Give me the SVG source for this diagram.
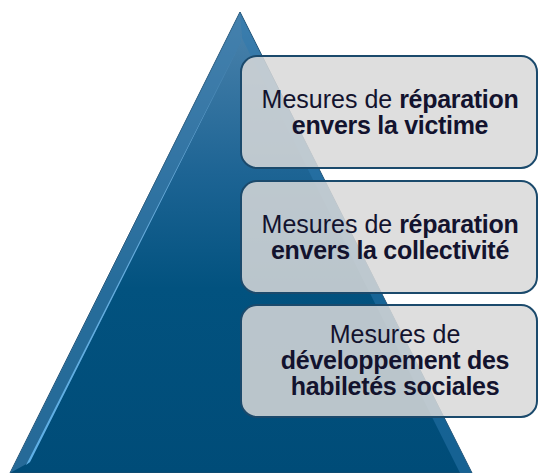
<svg xmlns="http://www.w3.org/2000/svg" width="539" height="473" viewBox="0 0 539 473">
  <style>
    .box { fill: #d8d8d8; fill-opacity: 0.86; stroke: #1b4a6c; stroke-width: 2; }
    text { font-family: "Liberation Sans", Arial, sans-serif; font-size: 25px; fill: #13132e; text-anchor: middle; }
    .b { font-weight: bold; letter-spacing: -0.3px; }
  </style>
  <defs>
    <linearGradient id="tri" x1="0" y1="0" x2="0" y2="1">
      <stop offset="0" stop-color="#4d84ad"/>
      <stop offset="0.35" stop-color="#1d6494"/>
      <stop offset="0.6" stop-color="#02527f"/>
      <stop offset="1" stop-color="#004c78"/>
    </linearGradient>
    <linearGradient id="hl" x1="0" y1="0" x2="0" y2="1">
      <stop offset="0" stop-color="#6aa6d2"/>
      <stop offset="1" stop-color="#5fb0e6"/>
    </linearGradient>
  </defs>
  <g id="pyramid">
    <polygon points="240,12 472,473 10,473" fill="url(#tri)" stroke="#1d4a6a" stroke-width="1"/>
    <polygon points="240,12 241,42 30,462 10,473" fill="#3f7fae" fill-opacity="0.6"/>
    <polygon points="239,46 241,42 30,462 26,465" fill="url(#hl)"/>
    <polygon points="240,12 472,473 460,473 242,38" fill="#2c78ad" fill-opacity="0.5"/>
  </g>
  <g id="node-victime">
    <rect class="box" x="241" y="56" width="296" height="112" rx="16"/>
    <text x="390" y="108">Mesures de <tspan class="b">réparation</tspan></text>
    <text x="390" y="134" class="b">envers la victime</text>
  </g>
  <g id="node-collectivite">
    <rect class="box" x="241" y="181" width="296" height="112" rx="16"/>
    <text x="390" y="233">Mesures de <tspan class="b">réparation</tspan></text>
    <text x="390" y="259" class="b">envers la collectivité</text>
  </g>
  <g id="node-habiletes">
    <rect class="box" x="241" y="305" width="296" height="112" rx="16"/>
    <text x="395" y="343">Mesures de</text>
    <text x="395" y="369" class="b">développement des</text>
    <text x="395" y="395" class="b">habiletés sociales</text>
  </g>
</svg>
